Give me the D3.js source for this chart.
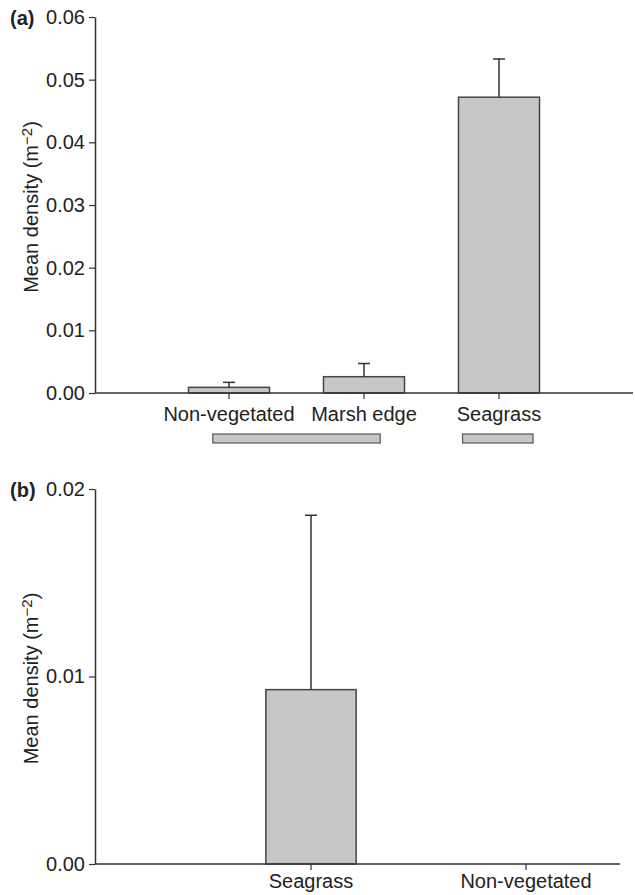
<!DOCTYPE html>
<html>
<head>
<meta charset="utf-8">
<script src="https://cdn.jsdelivr.net/npm/d3@7"></script>
<style>
  body { margin: 0; background: #fff; }
  text { font-family: "Liberation Sans", Arial, sans-serif; fill: #222; }
</style>
</head>
<body>
<svg id="chart"></svg>
<script>
// panel (a)
const catsA = ['Non-vegetated', 'Marsh edge', 'Seagrass'];
const meanA = [0.0009, 0.0026, 0.0472];
const seA = [0.0008, 0.0021, 0.0061];
const ticksA = [0, 0.01, 0.02, 0.03, 0.04, 0.05, 0.06];
const groupsA = [['Non-vegetated', 'Marsh edge'], ['Seagrass']]; // homogeneous subsets

// panel (b)
const catsB = ['Seagrass', 'Non-vegetated'];
const meanB = [0.0093, 0];
const seB = [0.0093, 0];
const ticksB = [0, 0.01, 0.02];

const W = 635, H = 895;
const fs = 20;
const barFill = '#c6c7c9', barStroke = '#444', axisCol = '#333';
const font = '"Liberation Sans", Arial, sans-serif';

const svg = d3.select('#chart').attr('width', W).attr('height', H);

function panel(opt) {
  const g = svg.append('g');
  const y = d3.scaleLinear().domain(opt.domain).range([opt.y0, opt.y1]);
  const x = d3.scaleBand().domain(opt.cats).range(opt.xr)
    .paddingInner(opt.pad).paddingOuter(opt.pad / 2);

  // y axis
  const ya = g.append('g').attr('transform', `translate(${opt.x0},0)`)
    .call(d3.axisLeft(y).tickValues(opt.ticks).tickFormat(d3.format('.2f'))
      .tickSize(6).tickPadding(4).tickSizeOuter(0));
  ya.select('.domain').attr('stroke', axisCol).attr('stroke-width', 1.5);
  ya.selectAll('.tick line').attr('stroke', axisCol).attr('stroke-width', 1.2);
  ya.selectAll('text').style('font-size', fs + 'px').attr('fill', '#222').style('font-family', font);

  // bars
  const data = opt.cats.map((c, i) => ({ c, v: opt.mean[i], e: opt.se[i] }));
  g.selectAll('rect.bar').data(data.filter(d => d.v > 0)).join('rect').attr('class', 'bar')
    .attr('x', d => x(d.c)).attr('width', x.bandwidth())
    .attr('y', d => y(d.v)).attr('height', d => y(0) - y(d.v))
    .attr('fill', barFill).attr('stroke', barStroke).attr('stroke-width', 1.5);

  // upper error bars
  const eb = g.selectAll('g.err').data(data.filter(d => d.e > 0)).join('g').attr('class', 'err');
  eb.append('line')
    .attr('x1', d => x(d.c) + x.bandwidth() / 2).attr('x2', d => x(d.c) + x.bandwidth() / 2)
    .attr('y1', d => y(d.v)).attr('y2', d => y(d.v + d.e))
    .attr('stroke', axisCol).attr('stroke-width', 1.5);
  eb.append('line')
    .attr('x1', d => x(d.c) + x.bandwidth() / 2 - 6).attr('x2', d => x(d.c) + x.bandwidth() / 2 + 6)
    .attr('y1', d => y(d.v + d.e)).attr('y2', d => y(d.v + d.e))
    .attr('stroke', axisCol).attr('stroke-width', 1.5);

  // x axis
  const xa = g.append('g').attr('transform', `translate(0,${opt.y0})`)
    .call(d3.axisBottom(x).tickSize(6).tickPadding(opt.labPad).tickSizeOuter(0));
  xa.select('.domain').remove();
  xa.selectAll('.tick line').attr('stroke', axisCol).attr('stroke-width', 1.2);
  xa.selectAll('text').style('font-size', fs + 'px').attr('fill', '#222').style('font-family', font);
  g.append('line').attr('x1', opt.x0).attr('x2', opt.xEnd)
    .attr('y1', opt.y0).attr('y2', opt.y0)
    .attr('stroke', axisCol).attr('stroke-width', 1.5);

  // y title
  const t = g.append('text')
    .attr('transform', `translate(${opt.titleX},${(opt.y0 + opt.y1) / 2 + 2}) rotate(-90)`)
    .attr('text-anchor', 'middle').style('font-size', fs + 'px');
  t.append('tspan').text('Mean density (m');
  t.append('tspan').attr('baseline-shift', '40%').style('font-size', '15px').text('\u22122');
  t.append('tspan').text(')');

  // panel letter
  g.append('text').attr('x', 10).attr('y', opt.y1 + 8)
    .style('font-size', fs + 'px').style('font-weight', 'bold').text(opt.letter);

  return { g, x };
}

const pa = panel({
  cats: catsA, mean: meanA, se: seA, ticks: ticksA, domain: [0, 0.06],
  y0: 393, y1: 17, x0: 95, xEnd: 633, xr: [161.5, 566.5], pad: 0.4,
  labPad: 8, titleX: 38, letter: '(a)'
});

// subset bars under panel (a)
const bw = pa.x.bandwidth();
const gx0 = d => pa.x(d[0]) + (d.length > 1 ? 0.3 : 0.05) * bw;
const gx1 = d => pa.x(d[d.length - 1]) + (d.length > 1 ? 0.7 : 0.92) * bw;
pa.g.selectAll('rect.grp').data(groupsA).join('rect').attr('class', 'grp')
  .attr('x', gx0).attr('width', d => gx1(d) - gx0(d))
  .attr('y', 434).attr('height', 9)
  .attr('fill', barFill).attr('stroke', '#555').attr('stroke-width', 1.2);

panel({
  cats: catsB, mean: meanB, se: seB, ticks: ticksB, domain: [0, 0.02],
  y0: 864, y1: 489, x0: 95, xEnd: 620, xr: [203.5, 633.5], pad: 0.58,
  labPad: 4, titleX: 38, letter: '(b)'
});
</script>
</body>
</html>
